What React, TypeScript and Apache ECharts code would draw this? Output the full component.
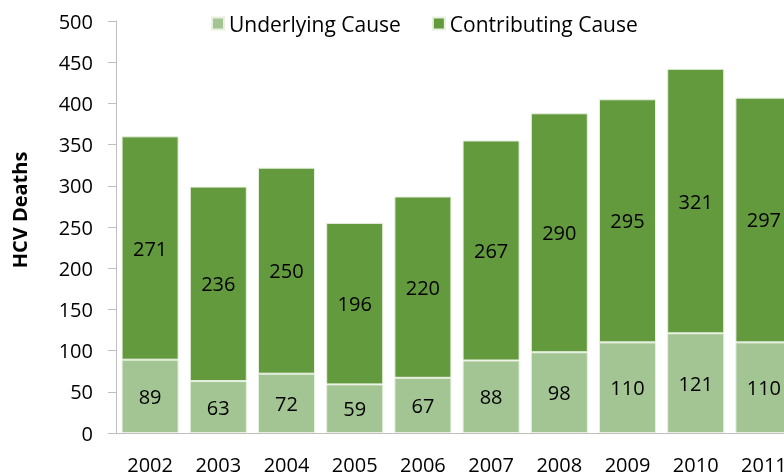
import React, { useEffect, useRef } from "react";
import * as echarts from "echarts";

const years = ["2002", "2003", "2004", "2005", "2006", "2007", "2008", "2009", "2010", "2011"];
const underlying = [89, 63, 72, 59, 67, 88, 98, 110, 121, 110];
const contributing = [271, 236, 250, 196, 220, 267, 290, 295, 321, 297];
const yTicks = { min: 0, max: 500, interval: 50 };

const FONT = "Open Sans";
const LIGHT = "#a2c593";
const DARK = "#639a3e";
const FS = 20;

export default function App() {
  const ref = useRef<HTMLDivElement>(null);
  useEffect(() => {
    if (!ref.current) return;
    const chart = echarts.init(ref.current, undefined, { renderer: "svg" });
    chart.setOption({
      animation: false,
      textStyle: { fontFamily: FONT },
      legend: {
        top: 8,
        left: 206,
        itemWidth: 12,
        itemHeight: 12,
        itemGap: 31,
        icon: "rect",
        textStyle: { fontSize: 21, color: "#000", fontFamily: FONT },
        data: ["Underlying Cause", "Contributing Cause"],
      },
      grid: { left: 116, top: 21, width: 682, height: 412, containLabel: false, outerBoundsMode: "none" },
      xAxis: {
        type: "category",
        data: years,
        axisLine: { lineStyle: { color: "#bfbfbf" } },
        axisTick: { show: false },
        axisLabel: { fontSize: FS, color: "#000", margin: 21, fontFamily: FONT },
      },
      yAxis: {
        type: "value",
        min: yTicks.min,
        max: yTicks.max,
        interval: yTicks.interval,
        axisLine: { show: true, lineStyle: { color: "#bfbfbf" } },
        axisTick: { show: true, length: 8, lineStyle: { color: "#bfbfbf" } },
        splitLine: { show: false },
        axisLabel: { fontSize: FS, color: "#000", margin: 23, fontFamily: FONT },
      },
      graphic: [
        {
          type: "text",
          x: 19,
          y: 210,
          rotation: Math.PI / 2,
          style: {
            text: "HCV Deaths",
            fontSize: 20,
            fontWeight: "bold",
            fontFamily: FONT,
            fill: "#000",
            textAlign: "center",
            textVerticalAlign: "middle",
          },
        },
      ],
      series: [
        {
          name: "Underlying Cause",
          type: "bar",
          stack: "total",
          data: underlying,
          barCategoryGap: "16.4%",
          itemStyle: { color: LIGHT, borderColor: "#e8f0e0", borderWidth: 1 },
          label: { show: true, position: "inside", fontSize: FS, color: "#000", fontFamily: FONT },
        },
        {
          name: "Contributing Cause",
          type: "bar",
          stack: "total",
          data: contributing,
          barCategoryGap: "16.4%",
          itemStyle: { color: DARK, borderColor: "#e8f0e0", borderWidth: 1 },
          label: { show: true, position: "inside", fontSize: FS, color: "#000", fontFamily: FONT },
        },
      ],
    });
    return () => chart.dispose();
  }, []);
  return <div ref={ref} style={{ position: "fixed", left: 0, top: 0, width: 784, height: 473 }} />;
}
